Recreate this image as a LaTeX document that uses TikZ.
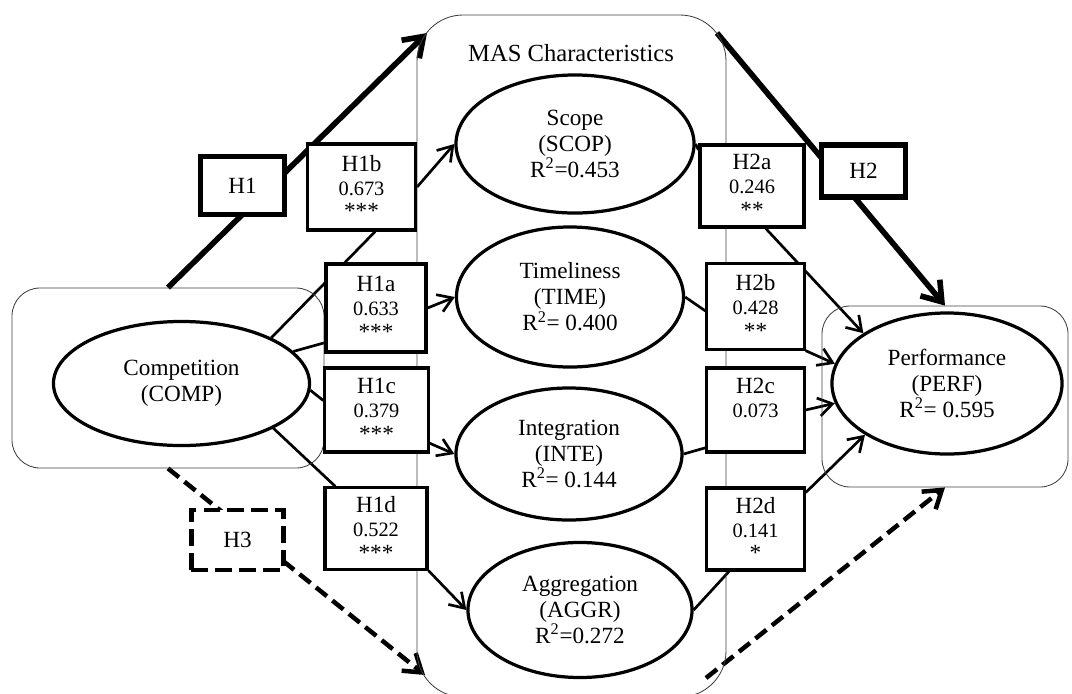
\documentclass[tikz,border=0pt]{standalone}
\usepackage{fontspec}
\setmainfont{Liberation Serif}
\usetikzlibrary{arrows.meta,shapes.geometric,fit,backgrounds}
\newcommand{\coef}[1]{{\fontsize{14.5}{17}\selectfont #1}}

\begin{document}
\begin{tikzpicture}[x=0.025cm, y=-0.025cm,
    every node/.style={font=\fontsize{16.5}{18.5}\selectfont},
    construct/.style={draw, ellipse, line width=2.3pt, fill=white, inner sep=0pt, align=center},
    hyp/.style={draw, line width=2.2pt, fill=white, inner sep=0pt, align=center,
        font=\fontsize{16.5}{17}\selectfont},
    mainhyp/.style={draw, line width=3.6pt, fill=white, minimum width=2.1cm},
    group/.style={draw=black!75, line width=0.6pt, inner sep=0pt},
    link/.style={line width=1.9pt},
    arr/.style={line width=1.9pt, -{Straight Barb[length=10pt, width=13pt]}},
    bigarr/.style={line width=4pt, -{Straight Barb[length=13pt, width=18pt]}},
    dasharr/.style={line width=3.2pt, dash pattern=on 10pt off 5pt,
        -{Straight Barb[length=12pt, width=16pt]}}]
    \useasboundingbox (0,0) rectangle (1072,693);
    % Bloques de fondo (marcos redondeados)
    \node[group, rounded corners=0.7cm, fit={(12,288) (324,468)}] (compbox) {};
    \node[group, rounded corners=1.15cm, fit={(417,15) (726,697)}] (masbox) {};
    \node[group, rounded corners=0.7cm, fit={(822,306) (1068,487)}] (perfbox) {};
    \node[font=\fontsize{17.5}{20}\selectfont] (maslabel) at (571,53) {MAS Characteristics};
    % Constructos
    \node[construct, minimum width=6.4cm, minimum height=3.1cm] (comp) at (181.5,383.5)
        {Competition\\(COMP)};
    \node[construct, minimum width=5.95cm, minimum height=3.45cm] (scop) at (575,144)
        {Scope\\(SCOP)\\R\textsuperscript{2}=0.453};
    \node[construct, minimum width=5.675cm, minimum height=3.5cm] (time) at (570,297)
        {Timeliness\\(TIME)\\R\textsuperscript{2}= 0.400};
    \node[construct, minimum width=5.65cm, minimum height=3.3cm] (inte) at (569,454)
        {Integration\\(INTE)\\R\textsuperscript{2}= 0.144};
    \node[construct, minimum width=5.6cm, minimum height=3.375cm] (aggr) at (580,610)
        {Aggregation\\(AGGR)\\R\textsuperscript{2}=0.272};
    \node[construct, minimum width=5.75cm, minimum height=3.525cm] (perf) at (947,383.5)
        {Performance\\(PERF)\\R\textsuperscript{2}= 0.595};
    % Hipotesis parciales H1x
    \node[hyp, minimum width=2.7cm, minimum height=2.15cm] (h1b) at (361.5,187) {H1b\\\coef{0.673}\\***};
    \node[hyp, minimum width=2.5cm, minimum height=2.2cm] (h1a) at (376,308) {H1a\\\coef{0.633}\\***};
    \node[hyp, minimum width=2.58cm, minimum height=2.1cm] (h1c) at (376.5,410) {H1c\\\coef{0.379}\\***};
    \node[hyp, minimum width=2.55cm, minimum height=2.03cm] (h1d) at (376,528.5) {H1d\\\coef{0.522}\\***};
    % Hipotesis parciales H2x
    \node[hyp, minimum width=2.6cm, minimum height=2.05cm] (h2a) at (752,186) {H2a\\\coef{0.246}\\**};
    \node[hyp, minimum width=2.43cm, minimum height=2.13cm] (h2b) at (755.5,306.5) {H2b\\\coef{0.428}\\**};
    \node[hyp, minimum width=2.43cm, minimum height=2.1cm] (h2c) at (755.5,410) {H2c\\\coef{0.073}\\~};
    \node[hyp, minimum width=2.43cm, minimum height=2.05cm] (h2d) at (755.5,529) {H2d\\\coef{0.141}\\*};
    % Hipotesis principales
    \node[mainhyp, minimum height=1.45cm] (h1) at (242.5,185.5) {H1};
    \node[mainhyp, minimum height=1.3cm] (h2) at (863.5,171) {H2};
    \node[mainhyp, line width=3.2pt, dash pattern=on 12pt off 5pt, minimum width=2.3cm,
        minimum height=1.5cm] (h3) at (237.5,540) {H3};
    % Extremos libres sobre los marcos
    \coordinate (h1tip) at (427,33);
    \coordinate (h2tail) at (717,33);
    \coordinate (h3tip) at (425,675);
    \coordinate (h3tail) at (706,678);
    \begin{scope}[on background layer]
        % Efectos totales (H1, H2, H3)
        \draw[bigarr] (compbox.north) -- (h1tip);
        \draw[bigarr] (h2tail) -- (perfbox.north);
        \draw[dasharr] (compbox.south) -- (h3tip);
        \draw[dasharr] (h3tail) -- (perfbox.south);
        % Competition -> MAS
        \draw[link] (comp.27) -- (h1b.-73);
        \draw[arr] (h1b.east) -- (scop.west);
        \draw[link] (comp.16) -- (h1a.214);
        \draw[arr] (h1a.east) -- (time.west);
        \draw[link] (comp.-3) -- (h1c.170);
        \draw[arr] (h1c.-32) -- (inte.west);
        \draw[link] (comp.-26) -- (h1d.134);
        \draw[arr] (h1d.south east) -- (aggr.west);
        % MAS -> Performance
        \draw[link] (scop.east) -- (h2a.146);
        \draw[arr] (h2a.-72) -- (perf.149);
        \draw[link] (time.east) -- (h2b.185);
        \draw[arr] (h2b.south east) -- (perf.170);
        \draw[link] (inte.east) -- (h2c.217);
        \draw[arr] (h2c.east) -- (perf.190);
        \draw[link] (aggr.east) -- (h2d.238);
        \draw[arr] (h2d.36) -- (perf.212);
    \end{scope}
\end{tikzpicture}
\end{document}
